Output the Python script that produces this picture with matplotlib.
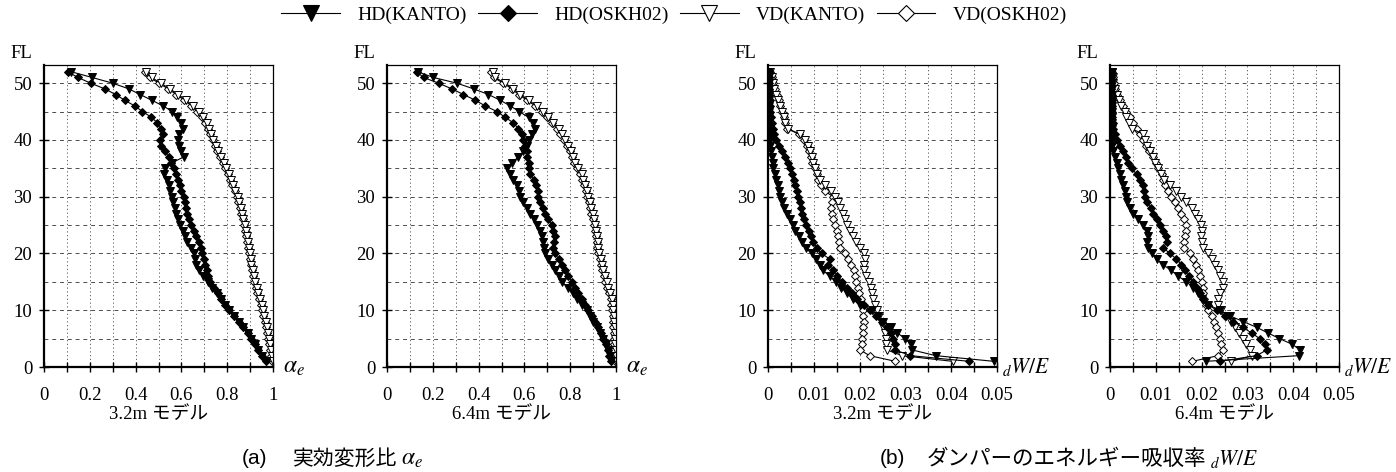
import matplotlib
matplotlib.use("Agg")
import matplotlib.pyplot as plt
from matplotlib.lines import Line2D
import numpy as np

plt.rcParams['font.family'] = ['Liberation Serif', 'Noto Sans CJK JP']
plt.rcParams['mathtext.fontset'] = 'stix'

# Floors, listed from top (52) to bottom (1)
floors = list(range(52, 0, -1))

series_names = ['HD(KANTO)', 'HD(OSKH02)', 'VD(KANTO)', 'VD(OSKH02)']
panel_captions = ['3.2m モデル', '6.4m モデル', '3.2m モデル', '6.4m モデル']

# ---- (a) effective deformation ratio, 3.2m model ----
a32_hd_kanto = [0.12, 0.21, 0.30, 0.37, 0.42, 0.47, 0.52, 0.56, 0.58, 0.60,
                0.605, 0.59, 0.585, 0.59, 0.60, 0.61, 0.56, 0.53, 0.525, 0.535,
                0.545, 0.55, 0.56, 0.565, 0.57, 0.575, 0.585, 0.595, 0.605, 0.615,
                0.625, 0.64, 0.655, 0.66, 0.665, 0.675, 0.695, 0.715, 0.735, 0.755,
                0.775, 0.79, 0.81, 0.83, 0.85, 0.87, 0.89, 0.905, 0.92, 0.935,
                0.95, 0.97]
a32_hd_oskh = [0.105, 0.148, 0.204, 0.265, 0.313, 0.352, 0.396, 0.43, 0.469, 0.495,
               0.512, 0.52, 0.505, 0.51, 0.527, 0.545, 0.556, 0.567, 0.578, 0.585,
               0.592, 0.60, 0.61, 0.615, 0.62, 0.625, 0.632, 0.643, 0.655, 0.665,
               0.675, 0.685, 0.692, 0.70, 0.705, 0.71, 0.718, 0.727, 0.742, 0.76,
               0.775, 0.79, 0.81, 0.83, 0.85, 0.87, 0.89, 0.905, 0.92, 0.935,
               0.95, 0.97]
a32_vd_kanto = [0.447, 0.47, 0.51, 0.55, 0.585, 0.62, 0.65, 0.675, 0.695, 0.71,
                0.72, 0.73, 0.74, 0.75, 0.76, 0.772, 0.785, 0.796, 0.806, 0.816,
                0.826, 0.836, 0.845, 0.852, 0.859, 0.865, 0.871, 0.876, 0.881, 0.886,
                0.89, 0.894, 0.898, 0.902, 0.906, 0.911, 0.916, 0.921, 0.928, 0.935,
                0.943, 0.95, 0.956, 0.962, 0.968, 0.973, 0.978, 0.983, 0.988, 0.992,
                0.996, 1.0]
a32_vd_oskh = [0.44, 0.462, 0.502, 0.542, 0.578, 0.613, 0.644, 0.67, 0.69, 0.705,
               0.716, 0.726, 0.736, 0.746, 0.756, 0.768, 0.781, 0.792, 0.802, 0.812,
               0.822, 0.832, 0.841, 0.848, 0.855, 0.861, 0.867, 0.872, 0.877, 0.882,
               0.886, 0.89, 0.894, 0.898, 0.902, 0.907, 0.912, 0.917, 0.924, 0.931,
               0.939, 0.946, 0.952, 0.958, 0.964, 0.969, 0.974, 0.979, 0.984, 0.988,
               0.992, 0.997]

# ---- (a) effective deformation ratio, 6.4m model ----
a64_hd_kanto = [0.134, 0.203, 0.305, 0.378, 0.443, 0.494, 0.538, 0.577, 0.618, 0.637,
                0.647, 0.632, 0.622, 0.61, 0.596, 0.574, 0.545, 0.523, 0.538, 0.552,
                0.567, 0.578, 0.581, 0.596, 0.61, 0.625, 0.64, 0.654, 0.668, 0.676,
                0.683, 0.686, 0.69, 0.705, 0.72, 0.734, 0.749, 0.763, 0.792, 0.814,
                0.828, 0.85, 0.872, 0.887, 0.90, 0.916, 0.93, 0.945, 0.956, 0.967,
                0.974, 0.98]
a64_hd_oskh = [0.13, 0.16, 0.225, 0.283, 0.334, 0.385, 0.429, 0.48, 0.516, 0.552,
               0.574, 0.589, 0.596, 0.603, 0.61, 0.613, 0.618, 0.622, 0.625, 0.64,
               0.651, 0.661, 0.661, 0.669, 0.68, 0.69, 0.705, 0.72, 0.727, 0.734,
               0.73, 0.727, 0.734, 0.749, 0.763, 0.778, 0.792, 0.807, 0.821, 0.836,
               0.85, 0.865, 0.879, 0.894, 0.908, 0.923, 0.935, 0.945, 0.955, 0.964,
               0.971, 0.977]
a64_vd_kanto = [0.461, 0.472, 0.516, 0.552, 0.581, 0.618, 0.654, 0.683, 0.705, 0.727,
                0.749, 0.763, 0.778, 0.792, 0.802, 0.814, 0.821, 0.836, 0.85, 0.858,
                0.865, 0.872, 0.879, 0.887, 0.891, 0.898, 0.904, 0.908, 0.913, 0.916,
                0.92, 0.923, 0.927, 0.933, 0.939, 0.945, 0.952, 0.959, 0.967, 0.974,
                0.981, 0.985, 0.988, 0.99, 0.992, 0.994, 0.995, 0.996, 0.997, 0.998,
                0.999, 1.0]
a64_vd_oskh = [0.455, 0.466, 0.508, 0.545, 0.575, 0.611, 0.647, 0.677, 0.699, 0.721,
               0.743, 0.757, 0.772, 0.786, 0.797, 0.808, 0.816, 0.83, 0.844, 0.853,
               0.86, 0.867, 0.874, 0.882, 0.886, 0.893, 0.899, 0.903, 0.908, 0.911,
               0.915, 0.918, 0.922, 0.928, 0.934, 0.94, 0.947, 0.954, 0.962, 0.969,
               0.976, 0.98, 0.983, 0.985, 0.987, 0.989, 0.99, 0.991, 0.992, 0.993,
               0.994, 0.995]

# ---- (b) damper energy absorption ratio, 3.2m model ----
b32_hd_kanto = [0.0003, 0.0003, 0.0003, 0.0003, 0.0003, 0.0003, 0.0003, 0.0003, 0.0003, 0.0003,
                0.0004, 0.0004, 0.0004, 0.0005, 0.0006, 0.0008, 0.001, 0.0012, 0.0015, 0.0018,
                0.0021, 0.0024, 0.0027, 0.0031, 0.0036, 0.0041, 0.0047, 0.0054, 0.006, 0.0067,
                0.0074, 0.0082, 0.0095, 0.0105, 0.0113, 0.012, 0.0135, 0.0148, 0.016, 0.0172,
                0.0185, 0.02, 0.0228, 0.024, 0.0252, 0.0268, 0.0282, 0.030, 0.0312, 0.0315,
                0.0366, 0.0493]
b32_hd_oskh = [0.0003, 0.0003, 0.0003, 0.0003, 0.0003, 0.0004, 0.0004, 0.0005, 0.0006, 0.0008,
               0.0011, 0.0014, 0.0018, 0.0024, 0.003, 0.0037, 0.0043, 0.0048, 0.0053, 0.0057,
               0.006, 0.0063, 0.0066, 0.0069, 0.0072, 0.0075, 0.0079, 0.0084, 0.0089, 0.0094,
               0.0099, 0.0106, 0.0117, 0.0135, 0.0132, 0.0143, 0.015, 0.0161, 0.0172, 0.0183,
               0.0194, 0.0209, 0.0222, 0.0235, 0.0249, 0.026, 0.0268, 0.0274, 0.0278, 0.0278,
               0.0311, 0.0439]
b32_vd_kanto = [0.0005, 0.0008, 0.0011, 0.0014, 0.0017, 0.0021, 0.0026, 0.003, 0.0034, 0.0038,
                0.0043, 0.007, 0.0081, 0.0088, 0.0092, 0.0095, 0.0099, 0.0103, 0.0108, 0.0113,
                0.0125, 0.0138, 0.0146, 0.0153, 0.0158, 0.0163, 0.0168, 0.0172, 0.0178, 0.0185,
                0.0192, 0.020, 0.0209, 0.0212, 0.0209, 0.021, 0.0215, 0.022, 0.0225, 0.0228,
                0.023, 0.0233, 0.0237, 0.0242, 0.0248, 0.025, 0.0255, 0.0257, 0.0258, 0.026,
                0.0293, 0.0403]
b32_vd_oskh = [0.0005, 0.0008, 0.0011, 0.0015, 0.0019, 0.0023, 0.0027, 0.003, 0.0034, 0.0038,
               0.0042, 0.0068, 0.0078, 0.0085, 0.009, 0.0093, 0.0097, 0.0102, 0.0106, 0.011,
               0.0115, 0.0124, 0.0142, 0.014, 0.0138, 0.014, 0.0143, 0.0147, 0.015, 0.0153,
               0.0155, 0.0158, 0.0168, 0.0175, 0.0182, 0.0187, 0.019, 0.0193, 0.0196, 0.0199,
               0.0202, 0.0205, 0.0207, 0.0208, 0.0209, 0.0208, 0.0207, 0.0206, 0.0205, 0.0201,
               0.0222, 0.0278]

# ---- (b) damper energy absorption ratio, 6.4m model ----
b64_hd_kanto = [0.0004, 0.0004, 0.0004, 0.0004, 0.0004, 0.0004, 0.0004, 0.0004, 0.0004, 0.0004,
                0.0004, 0.0004, 0.0004, 0.0005, 0.0006, 0.001, 0.0015, 0.0018, 0.0022, 0.0025,
                0.0029, 0.0033, 0.0036, 0.0038, 0.0044, 0.0051, 0.0062, 0.0073, 0.008, 0.0084,
                0.0081, 0.0084, 0.0091, 0.0102, 0.0116, 0.0134, 0.0149, 0.0167, 0.0182, 0.0193,
                0.020, 0.0214, 0.024, 0.0262, 0.0291, 0.032, 0.0345, 0.037, 0.0398, 0.0415,
                0.0413, 0.021]
b64_hd_oskh = [0.0003, 0.0003, 0.0003, 0.0003, 0.0004, 0.0004, 0.0004, 0.0005, 0.0005, 0.0006,
               0.0007, 0.001, 0.0016, 0.0022, 0.0029, 0.0035, 0.004, 0.0047, 0.0058, 0.0065,
               0.0071, 0.0074, 0.0076, 0.0081, 0.0089, 0.0094, 0.0102, 0.0109, 0.0116, 0.0122,
               0.0124, 0.0116, 0.0131, 0.0145, 0.0156, 0.0163, 0.0173, 0.0182, 0.0189, 0.0196,
               0.0203, 0.0214, 0.0233, 0.0251, 0.0269, 0.029, 0.0309, 0.0327, 0.0338, 0.0342,
               0.032, 0.024]
b64_vd_kanto = [0.0005, 0.0006, 0.0007, 0.001, 0.0015, 0.002, 0.0025, 0.0033, 0.0036, 0.0041,
                0.0047, 0.0073, 0.0076, 0.0081, 0.0087, 0.0093, 0.0098, 0.0105, 0.0111, 0.0118,
                0.0131, 0.0145, 0.0156, 0.0167, 0.0178, 0.0185, 0.0193, 0.0198, 0.020, 0.0198,
                0.020, 0.0203, 0.0214, 0.0222, 0.0229, 0.0236, 0.0241, 0.0246, 0.0246, 0.0241,
                0.0236, 0.0236, 0.0243, 0.0254, 0.0265, 0.0273, 0.0282, 0.0291, 0.0298, 0.0305,
                0.0311, 0.0265]
b64_vd_oskh = [0.0005, 0.0006, 0.0008, 0.0012, 0.0016, 0.0022, 0.0029, 0.0036, 0.0044, 0.0051,
               0.0058, 0.0065, 0.0073, 0.0079, 0.0086, 0.0093, 0.010, 0.0105, 0.0113, 0.0116,
               0.012, 0.0127, 0.0134, 0.0142, 0.0149, 0.0156, 0.0161, 0.0167, 0.0167, 0.0164,
               0.0161, 0.0161, 0.0174, 0.0182, 0.0188, 0.0193, 0.0196, 0.020, 0.0202, 0.0203,
               0.0205, 0.0209, 0.0214, 0.0222, 0.0227, 0.0231, 0.0236, 0.024, 0.0243, 0.0246,
               0.0236, 0.018]

panels = [
    [a32_hd_kanto, a32_hd_oskh, a32_vd_kanto, a32_vd_oskh],
    [a64_hd_kanto, a64_hd_oskh, a64_vd_kanto, a64_vd_oskh],
    [b32_hd_kanto, b32_hd_oskh, b32_vd_kanto, b32_vd_oskh],
    [b64_hd_kanto, b64_hd_oskh, b64_vd_kanto, b64_vd_oskh],
]

styles = [
    dict(marker='v', markersize=5.5, markerfacecolor='black', markeredgecolor='black'),
    dict(marker='D', markersize=4.0, markerfacecolor='black', markeredgecolor='black'),
    dict(marker='v', markersize=5.5, markerfacecolor='white', markeredgecolor='black'),
    dict(marker='D', markersize=4.0, markerfacecolor='white', markeredgecolor='black'),
]

fig = plt.figure(figsize=(13.96, 4.72), dpi=100)
W, H = 1396.0, 472.0
lefts_px = [44, 387, 768, 1110]
ax_w = 229 / W
ax_b = (H - 367) / H
ax_h = 302 / H

for i, (lp, data) in enumerate(zip(lefts_px, panels)):
    ax = fig.add_axes([lp / W, ax_b, ax_w, ax_h])
    is_a = i < 2
    xmax = 1.0 if is_a else 0.05
    step = 0.1 if is_a else 0.005
    ax.set_xlim(0, xmax)
    ax.set_ylim(0, 53.2)
    ax.set_axisbelow(True)
    for vals, st in zip(data[::-1], styles[::-1]):
        ax.plot(vals, floors, color='black', lw=0.8, markeredgewidth=0.7, **st)

    xt = np.round(np.arange(0, xmax + step / 2, step), 4)
    ax.set_xticks(xt)
    if is_a:
        labels = ['0' if abs(v) < 1e-9 else ('1' if abs(v - 1) < 1e-9 else f'{v:.1f}')
                  if (round(v * 10) % 2 == 0) else '' for v in xt]
    else:
        labels = ['0' if abs(v) < 1e-9 else f'{v:.2f}'
                  if (round(v * 1000) % 10 == 0) else '' for v in xt]
    ax.set_xticklabels(labels)
    ax.set_yticks([0, 10, 20, 30, 40, 50])
    ax.set_yticks([5, 15, 25, 35, 45], minor=True)
    ax.tick_params(axis='both', which='major', direction='inout', length=7, width=1.0,
                   labelsize=13.5)
    ax.tick_params(axis='x', which='major', pad=11)
    ax.tick_params(axis='y', which='major', pad=5)
    ax.tick_params(axis='y', which='minor', length=0)
    ax.xaxis.grid(True, which='major', color='0.3', lw=0.6, linestyle=(0, (1.5, 3)))
    ax.yaxis.grid(True, which='both', color='0.3', lw=0.7, linestyle=(0, (4, 4)))
    for s in ['left', 'bottom']:
        ax.spines[s].set_linewidth(1.6)
    for s in ['top', 'right']:
        ax.spines[s].set_linewidth(0.9)

    ax.text(-12 / 229, 1.01, 'FL', transform=ax.transAxes, ha='right', va='bottom',
            fontsize=13.5)
    if is_a:
        ax.text(1 + 10 / 229, 0.0, r'$\alpha_e$', transform=ax.transAxes, ha='left',
                va='center', fontsize=17)
    else:
        ax.text(1 + 5 / 229, 0.0, r'${}_{d}W/E$', transform=ax.transAxes, ha='left',
                va='center', fontsize=15.5)
    ax.text(0.5, -48 / 302, panel_captions[i], transform=ax.transAxes, ha='center',
            va='center', fontsize=13.5)

handles = [Line2D([], [], color='black', lw=0.8, markeredgewidth=0.8,
                  **dict(st, markersize=st['markersize'] * 2.0))
           for st in styles]
fig.legend(handles, series_names, loc='center', bbox_to_anchor=(0.483, 1 - 15 / H),
           ncol=4, frameon=False, fontsize=14, handlelength=3.0,
           handletextpad=0.9, columnspacing=0.6)

# bottom captions: label, Japanese text, then math symbol placed after the text
cap_y = 1 - 459 / H
fig.text(242 / W, cap_y, '(a)', ha='left', va='center', fontsize=15,
         family=['Liberation Sans'])
ja_a = fig.text(293 / W, cap_y, '実効変形比', ha='left', va='center', fontsize=15,
                family=['Noto Sans CJK JP'])
fig.text(880 / W, cap_y, '(b)', ha='left', va='center', fontsize=15,
         family=['Liberation Sans'])
ja_b = fig.text(927 / W, cap_y, 'ダンパーのエネルギー吸収率', ha='left', va='center',
                fontsize=15.5, family=['Noto Sans CJK JP'])
fig.canvas.draw()
r = fig.canvas.get_renderer()
ea = ja_a.get_window_extent(r)
eb = ja_b.get_window_extent(r)
fig.text((ea.x1 + 4) / W, cap_y, r'$\alpha_e$', ha='left', va='center', fontsize=17)
fig.text((eb.x1 + 3) / W, cap_y, r'${}_{d}W/E$', ha='left', va='center', fontsize=15.5)

fig.savefig('out.png', dpi=100)
